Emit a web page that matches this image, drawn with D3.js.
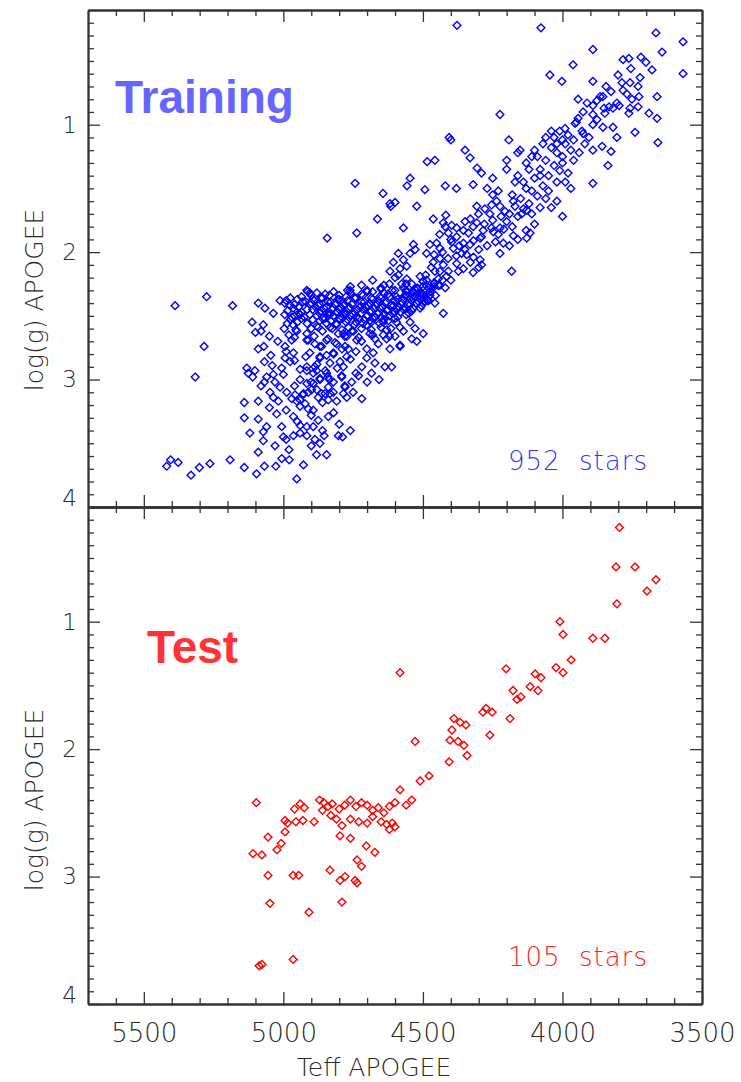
<!DOCTYPE html>
<html><head><meta charset="utf-8">
<script src="https://cdn.jsdelivr.net/npm/d3@7"></script>
<style>body{margin:0;background:#fff}</style>
</head><body><svg id="c" width="741" height="1082"></svg>
<script>
const xTickValues = [5500, 5000, 4500, 4000, 3500];
const yTickValues = [1, 2, 3, 4];
const trainLabel = "Training", testLabel = "Test";
const trainCount = "952  stars", testCount = "105  stars";

// Training set (Teff, logg)
const trainTeff = [3665,3568,3891,3643,3962,3783,3762,3719,3701,3755,3679,3568,4045,4002,3891,3801,3787,3758,3722,3729,3844,3826,3783,3769,3751,3726,3661,3944,3912,3891,3865,3855,3876,3805,3797,3819,3851,3833,3758,3729,3762,3690,3661,3926,3891,3848,3876,3944,3955,3891,3855,3819,3991,3740,3926,3905,3805,3858,3891,3826,3658,3837,3891,
4843,5388,5275,5182,5284,5316,5090,5112,5072,5066,5036,5012,4913,5090,5045,5068,5131,5126,5102,5040,5036,5006,4994,4976,4964,4994,4970,4980,4952,4997,4986,4970,4940,4916,4911,4887,4863,4905,4869,4845,4833,4797,4779,4815,4803,4833,4875,4797,4767,4773,4833,4779,5060,5068,5012,5048,5036,5018,5090,5140,4988,4970,4958,4952,4940,4928,4922,4940,4911,4893,4916,4940,4901,4899,4887,4916,4893,4869,4835,4839,4833,4863,4809,4773,4779,4791,4807,4839,5090,5024,4964,4940,4916,4893,4875,4839,5006,5060,5072,5000,4990,4964,4940,4916,4887,4869,4854,4803,4788,5072,5090,4881,4845,5006,4979,4928,4952,5027,5068,5096,5140,5191,5263,5301,5331,5377,5404,5418,
4615,4600,4522,4663,4570,4737,4463,4418,4427,4397,4379,4409,4349,4355,4337,4307,4301,4278,4254,4236,4224,4206,4307,4284,4295,4319,4331,4355,4379,4397,4391,4361,4343,4319,4295,4290,4254,4248,4224,4212,4224,4176,4128,4116,4182,4146,4128,4176,4451,4475,4439,4487,4439,4463,4427,4409,4439,4457,4415,4445,4445,4373,4379,4355,4499,4487,4510,4493,4499,4475,4457,4427,4534,4546,4528,4588,4606,4570,4558,4582,4618,4588,4558,4576,4540,4534,4510,4761,4916,4905,
4499,4522,4582,4612,4657,4636,4678,4701,4618,4630,4672,4737,4767,4719,4731,4755,4791,4821,4845,4869,4893,4911,4785,4821,4851,4719,4875,4582,4546,4642,4701,4642,4749,4785,4809,4845,4869,4916,4821,4773,4785,4869,4916,4881,4672,4684,4701,4582,4528,
4990,4950,4920,4890,4860,4830,4800,4770,4740,4710,4680,4650,4620,4590,4560,4530,4500,
4975,4945,4905,4875,4845,4815,4785,4755,4725,4695,4665,4635,4605,4575,4545,4515,4485,
4985,4935,4895,4865,4835,4800,4775,4745,4715,4685,4655,4625,4595,4565,4535,4505,
4960,4925,4880,4850,4820,4790,4760,4730,4700,4670,4640,4610,4580,4550,
4900,4850,4800,4760,4720,4680,4640,4600,4560,4520,4480,4460,
4950,4870,4810,4740,4690,4640,4600,
4378,4077,4406,4400,4457,4485,4349,4331,4306,4224,4192,4546,4557,4643,4743,4618,4493,4152,4130,4110,4060,4040,4020,4000,4080,4170,4250,4270,4200,4100,
4975,4935,4895,4865,4835,4805,4775,4745,4715,4685,4655,4625,4595,4565,4535,4505,4475,
4995,4960,4930,4900,4870,4840,4810,4780,4750,4720,4690,4660,4630,4600,4570,4540,4510,4480,4455,
4965,4915,4885,4855,4825,4795,4765,4735,4705,4675,4645,4615,4585,4555,4525,4495,
4995,4945,4905,4870,4840,4810,4780,4750,4720,4690,4660,4630,4600,4570,4540,4510,
4975,4935,4895,4860,4830,4800,4770,4740,4710,4680,4650,4620,4590,4560,
4965,4915,4880,4845,4810,4775,4745,4715,4685,4655,4625,4595,
4955,4900,4860,4825,4790,4755,4720,4685,4650,4615,
4880,4820,4770,4700,4650,4610,4570,4530,4500,4470,4440,
4760,4640,4560,4500,4460,4430,
4960,4890,4840,4780,4730,4680,4620,
5080,5050,5020,4990,4960,4940,5000,5030,4960,4930,4880,4860,4900,4950,4990,5050,5080,5110,5070,5100,4920,4880,4850,4820,4790,4760,4740,4720,4690,4660,4630,4600,4570,4540,4860,4900,4820,4800,4760,4980,5030,5120,5140,4840,4780,4750,4700,4740,
4040,4020,4000,3990,3970,4060,4030,4010,4080,4050,4020,4000,3980,3960,3940,4070,4100,4110,4090,4060,4130,4150,4120,4140,4170,4160,4190,4200,4220,4180,4230,4250,4260,4280,4240,4270,4300,4320,4330,4290,4210,4110,4080,4050,4030,4010,3980,3960,3930,3920,3950,4070,4090,4120,4140,4160,4180,4020,3990,3970,4040,4000,4100,4130,4160,4190,
4420,4440,4400,4370,4430,4460,4410,4380,4350,4330,4300,4320,4470,4490,4460,4420,4400,4520,4540,4560,4480,4600,4620,4650,4680,4700,4720,
4290,4320,4250,4200,4160,4230,4380,4420];
const trainLogg = [0.28,0.35,0.41,0.43,0.53,0.49,0.48,0.47,0.51,0.56,0.57,0.60,0.61,0.66,0.66,0.61,0.67,0.67,0.63,0.70,0.70,0.74,0.73,0.76,0.80,0.78,0.78,0.80,0.83,0.85,0.78,0.78,0.81,0.83,0.85,0.87,0.87,0.86,0.87,0.86,0.91,0.91,0.95,0.90,0.92,0.91,0.96,0.95,0.99,1.00,1.02,1.02,1.03,1.06,1.07,1.10,1.10,1.17,1.20,1.21,1.14,1.32,1.46,
1.89,2.42,2.35,2.42,2.74,2.98,2.40,2.55,2.57,2.44,2.48,2.38,2.31,2.76,2.81,2.86,2.91,2.95,2.93,2.89,2.96,2.91,2.83,2.86,2.79,2.74,2.69,2.65,2.62,2.60,2.56,2.51,2.49,2.64,2.69,2.72,2.74,2.79,2.83,2.81,2.87,2.86,2.74,2.71,2.64,2.59,2.59,2.53,2.59,2.66,2.49,2.49,2.98,3.02,3.06,3.10,3.14,3.17,3.17,3.18,3.10,3.15,3.12,3.17,3.16,3.11,3.19,3.21,3.23,3.24,3.03,3.00,3.02,3.08,2.90,2.93,2.95,2.99,3.00,3.06,3.11,3.11,3.17,3.14,3.06,2.98,2.91,3.16,3.31,3.27,3.29,3.36,3.37,3.37,3.32,3.29,3.37,3.37,3.41,3.45,3.47,3.44,3.42,3.44,3.47,3.50,3.44,3.44,3.45,3.48,3.57,3.59,3.59,3.62,3.63,3.67,3.78,3.68,3.68,3.74,3.69,3.63,3.66,3.69,3.75,3.65,3.63,3.68,
1.64,1.61,1.64,1.74,1.81,1.85,1.74,1.71,1.77,1.79,1.81,1.85,1.76,1.83,1.85,1.64,1.70,1.66,1.63,1.60,1.64,1.68,1.77,1.83,1.89,1.91,1.94,1.93,1.88,1.92,1.97,2.01,2.02,2.04,2.06,2.10,1.81,1.84,1.81,1.93,2.01,1.87,1.89,1.85,2.15,1.70,1.67,1.60,1.93,1.94,1.97,2.01,2.05,2.08,2.10,2.15,2.15,2.15,2.19,2.26,2.21,2.15,2.09,2.13,2.23,2.22,2.19,2.35,2.30,2.34,2.40,2.48,1.94,2.01,1.98,2.01,2.08,2.06,2.11,2.13,2.15,2.18,2.21,2.25,2.25,2.31,2.34,2.30,2.30,2.32,
2.64,2.70,2.73,2.90,3.00,2.90,2.79,2.76,2.76,2.68,2.68,2.69,2.76,2.90,2.97,3.02,2.97,3.02,2.95,3.00,3.03,3.10,3.11,3.10,3.11,3.15,3.14,2.59,2.55,2.55,2.57,2.65,2.62,2.64,2.72,2.69,2.74,2.69,2.79,2.82,2.90,2.82,2.90,2.93,2.87,2.95,2.83,2.74,2.60,
2.38,2.37,2.39,2.38,2.36,2.39,2.37,2.38,2.36,2.39,2.37,2.36,2.35,2.37,2.34,2.35,2.33,
2.42,2.43,2.41,2.42,2.43,2.41,2.42,2.41,2.43,2.42,2.41,2.40,2.42,2.40,2.41,2.39,2.38,
2.46,2.47,2.45,2.46,2.47,2.45,2.46,2.47,2.45,2.46,2.44,2.45,2.44,2.43,2.44,2.42,
2.50,2.51,2.50,2.52,2.50,2.51,2.50,2.52,2.50,2.51,2.49,2.48,2.47,2.48,
2.34,2.33,2.34,2.32,2.33,2.31,2.32,2.30,2.31,2.29,2.28,2.27,
2.55,2.54,2.56,2.55,2.54,2.53,2.52,
0.22,0.24,1.10,1.12,1.28,1.29,1.20,1.26,1.34,0.92,1.12,1.42,1.48,1.54,1.46,1.62,1.51,1.20,1.30,1.25,1.10,1.05,1.15,1.12,1.40,1.45,1.55,1.50,1.35,1.20,
2.36,2.35,2.37,2.36,2.34,2.37,2.35,2.36,2.34,2.36,2.35,2.33,2.35,2.34,2.32,2.33,2.31,
2.40,2.41,2.39,2.40,2.41,2.39,2.40,2.41,2.40,2.39,2.40,2.38,2.39,2.38,2.37,2.38,2.36,2.35,2.34,
2.44,2.45,2.43,2.44,2.45,2.43,2.44,2.45,2.43,2.44,2.43,2.42,2.43,2.41,2.40,2.39,
2.49,2.48,2.49,2.48,2.49,2.47,2.48,2.49,2.48,2.47,2.48,2.46,2.47,2.45,2.46,2.44,
2.53,2.52,2.53,2.52,2.54,2.52,2.53,2.51,2.53,2.52,2.51,2.50,2.51,2.49,
2.57,2.56,2.58,2.56,2.57,2.55,2.57,2.56,2.55,2.56,2.54,2.55,
2.61,2.60,2.62,2.60,2.61,2.62,2.60,2.61,2.59,2.60,
2.32,2.31,2.30,2.31,2.29,2.30,2.28,2.29,2.27,2.28,2.26,
2.27,2.26,2.25,2.23,2.24,2.22,
2.67,2.66,2.68,2.66,2.67,2.65,2.66,
2.62,2.66,2.70,2.78,2.85,2.92,2.96,3.02,3.05,3.12,3.08,3.18,3.28,3.33,3.24,3.22,3.05,2.98,2.74,2.63,2.82,2.88,2.93,2.80,2.76,2.84,2.78,2.70,2.64,2.72,2.61,2.66,2.62,2.68,3.40,3.52,3.26,3.35,3.40,3.55,3.52,3.42,3.30,2.98,3.05,3.10,3.02,2.95,
1.18,1.22,1.25,1.15,1.20,1.28,1.32,1.36,1.35,1.40,1.45,1.30,1.38,1.28,1.22,1.48,1.42,1.52,1.56,1.58,1.50,1.58,1.62,1.66,1.64,1.72,1.70,1.76,1.72,1.80,1.86,1.75,1.70,1.78,1.92,1.95,1.98,1.80,1.74,1.88,1.82,1.70,1.65,1.52,1.10,1.05,1.08,1.12,1.05,1.15,0.98,1.15,1.25,1.35,1.45,1.40,1.55,1.60,1.45,1.50,1.65,1.72,1.78,1.83,1.90,1.95,
1.80,1.86,1.90,1.95,2.00,2.02,2.05,2.03,1.98,2.08,2.12,2.16,2.12,2.18,2.25,2.28,2.22,2.28,2.35,2.30,2.38,2.20,2.25,2.28,2.22,2.30,2.26,
1.38,1.47,1.42,1.28,1.22,1.52,1.50,1.48];

// Test set (Teff, logg)
const testTeff = [3796,3808,3740,3665,3697,3805,4009,3998,3891,3848,3969,3998,4023,4202,4582,4098,4077,4116,4088,4177,4149,4163,4274,4285,4252,4188,4389,4367,4346,4396,4260,4403,4374,4353,4528,4342,4406,4478,4510,4582,
4940,4925,4870,4855,4840,4860,4825,4800,4780,4760,4740,4720,4700,4680,4660,4640,4620,4600,4930,4890,4830,4810,4790,4760,4730,4700,4680,4650,4630,4610,4600,4620,4560,4540,
4797,4703,4672,4736,4720,4779,4797,4743,4736,4790,4833,4760,
5097,4994,4985,4955,5055,5008,5023,4994,5077,5109,5055,4965,4945,5048,4908,5077,5087,4965,4960];
const testLogg = [0.26,0.57,0.57,0.67,0.76,0.86,1.00,1.10,1.13,1.13,1.30,1.40,1.36,1.37,1.40,1.41,1.44,1.51,1.54,1.54,1.59,1.61,1.68,1.71,1.71,1.76,1.76,1.79,1.81,1.85,1.89,1.93,1.94,1.97,1.94,2.05,2.10,2.21,2.25,2.32,
2.43,2.46,2.40,2.42,2.45,2.48,2.43,2.47,2.44,2.40,2.45,2.42,2.44,2.48,2.46,2.50,2.45,2.42,2.56,2.57,2.52,2.55,2.60,2.55,2.57,2.58,2.53,2.57,2.59,2.58,2.61,2.63,2.44,2.40,
2.68,2.76,2.81,2.87,2.92,3.00,3.03,3.03,3.05,3.20,2.95,2.70,
2.42,2.56,2.58,2.57,2.69,2.74,2.79,2.65,2.83,2.82,2.99,2.99,2.99,3.21,3.28,3.69,3.70,3.65,2.47];

const svg = d3.select("#c");
const x = d3.scaleLinear().domain([5700, 3500]).range([88, 702]);
const yTop = d3.scaleLinear().domain([0.1, 4.0]).range([10, 507]);
const yBot = d3.scaleLinear().domain([0.1, 4.0]).range([507, 1004]);
const axisColor = "#333";
const tickFont = "DejaVu Sans";
const textColor = "#2a2a2a";
const xMinor = d3.range(3600, 5700, 100).filter(v => v % 500 !== 0);
const yMinor = d3.range(2, 40).map(v => v / 10).filter(v => Math.abs(v - Math.round(v)) > 1e-6);

function styleAxis(g) {
  g.select(".domain").attr("stroke", axisColor).attr("stroke-width", 1.8);
  g.selectAll(".tick line").attr("stroke", axisColor).attr("stroke-width", 1.3);
}

function panel(y, labels) {
  const [yb, yt] = y.range();
  const xl = x.range()[0], xr = x.range()[1];
  const gb = svg.append("g").attr("transform", `translate(0,${yt})`)
    .call(d3.axisBottom(x).tickValues(xTickValues).tickSize(-12).tickSizeOuter(0).tickPadding(20).tickFormat(labels ? d3.format("d") : ""));
  gb.call(styleAxis);
  gb.selectAll("text").attr("font-family", tickFont).attr("font-weight", 200).attr("font-size", 26).attr("fill", textColor);
  svg.append("g").attr("transform", `translate(0,${yt})`)
    .call(d3.axisBottom(x).tickValues(xMinor).tickSize(-6).tickSizeOuter(0).tickFormat("")).call(styleAxis);
  svg.append("g").attr("transform", `translate(0,${yb})`)
    .call(d3.axisTop(x).tickValues(xTickValues).tickSize(-12).tickSizeOuter(0).tickFormat("")).call(styleAxis);
  svg.append("g").attr("transform", `translate(0,${yb})`)
    .call(d3.axisTop(x).tickValues(xMinor).tickSize(-6).tickSizeOuter(0).tickFormat("")).call(styleAxis);
  const gl = svg.append("g").attr("transform", `translate(${xl},0)`)
    .call(d3.axisLeft(y).tickValues(yTickValues).tickSize(-12).tickSizeOuter(0).tickPadding(11).tickFormat(d3.format("d")));
  gl.call(styleAxis);
  gl.selectAll("text").attr("font-family", tickFont).attr("font-weight", 200).attr("font-size", 23).attr("fill", textColor)
    .attr("dy", d => d === 4 ? "-0.05em" : "0.32em");
  svg.append("g").attr("transform", `translate(${xl},0)`)
    .call(d3.axisLeft(y).tickValues(yMinor).tickSize(-6).tickSizeOuter(0).tickFormat("")).call(styleAxis);
  svg.append("g").attr("transform", `translate(${xr},0)`)
    .call(d3.axisRight(y).tickValues(yTickValues).tickSize(-12).tickSizeOuter(0).tickFormat("")).call(styleAxis);
  svg.append("g").attr("transform", `translate(${xr},0)`)
    .call(d3.axisRight(y).tickValues(yMinor).tickSize(-6).tickSizeOuter(0).tickFormat("")).call(styleAxis);
}

function diamonds(tv, gv, y, color) {
  const n = Math.min(tv.length, gv.length);
  const pts = d3.range(n).map(i => [tv[i], gv[i]]);
  svg.append("g").selectAll("path").data(pts).join("path")
    .attr("d", d => { const cx = x(d[0]), cy = y(d[1]), r = 3.9; return `M${cx},${cy - r}L${cx + r},${cy}L${cx},${cy + r}L${cx - r},${cy}Z`; })
    .attr("fill", "none").attr("stroke", color).attr("stroke-width", 1.4);
}

diamonds(trainTeff, trainLogg, yTop, "#0000ff");
diamonds(testTeff, testLogg, yBot, "#ff0000");
panel(yTop, false);
panel(yBot, true);

svg.append("text").attr("x", 374).attr("y", 1076).attr("text-anchor", "middle")
  .attr("font-family", tickFont).attr("font-weight", 200).attr("font-size", 25).attr("fill", textColor).text("Teff APOGEE");
[[yTop, 300], [yBot, 800]].forEach(([y, cy]) => {
  svg.append("text").attr("transform", `translate(43,${cy}) rotate(-90)`).attr("text-anchor", "middle")
    .attr("font-family", tickFont).attr("font-weight", 200).attr("font-size", 25).attr("fill", textColor).text("log(g) APOGEE");
});

svg.append("text").attr("x", 115).attr("y", 113).attr("font-family", "Liberation Sans, Arial, sans-serif")
  .attr("font-weight", "bold").attr("font-size", 46).attr("fill", "#6666ff").text(trainLabel);
svg.append("text").attr("x", 147).attr("y", 663).attr("font-family", "Liberation Sans, Arial, sans-serif")
  .attr("font-weight", "bold").attr("font-size", 46).attr("fill", "#ff3333").text(testLabel);
svg.append("text").attr("x", 648).attr("y", 470).attr("text-anchor", "end").style("white-space", "pre")
  .attr("font-family", tickFont).attr("font-weight", 200).attr("letter-spacing", 1).attr("font-size", 26).attr("fill", "#3333ff").text(trainCount);
svg.append("text").attr("x", 648).attr("y", 966).attr("text-anchor", "end").style("white-space", "pre")
  .attr("font-family", tickFont).attr("font-weight", 200).attr("letter-spacing", 1).attr("font-size", 26).attr("fill", "#ff2222").text(testCount);
</script></body></html>
